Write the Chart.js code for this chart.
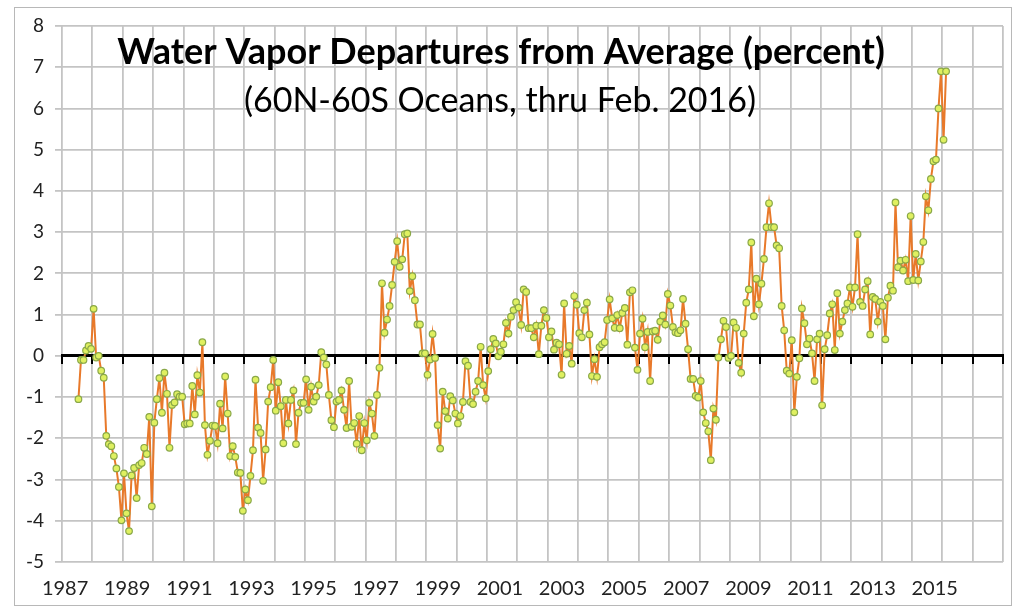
<!DOCTYPE html>
<html><head><meta charset="utf-8">
<script src="https://cdn.jsdelivr.net/npm/chart.js@4"></script>
<style>
html,body{margin:0;padding:0;background:#fff;}
#frame{position:absolute;left:14px;top:7px;width:998px;height:599px;border:1px solid #b8b8b8;box-sizing:border-box;}
#wrap{position:absolute;left:0;top:0;width:1024px;height:614px;}
</style></head><body>
<div id="frame"></div>
<div id="wrap"><canvas id="c" width="1024" height="614"></canvas></div>
<script>
const titleText = 'Water Vapor Departures from Average (percent)';
const subtitleText = '(60N-60S Oceans, thru Feb. 2016)';
const axisMonths = 372;              // month slots on the axis, starting Jan 1987
const firstDataMonth = 6;            // July 1987 (0 = Jan 1987)
const yearTickLabels = ['1987','1989','1991','1993','1995','1997','1999','2001','2003','2005','2007','2009','2011','2013','2015'];
const labelAxisRange = [1986.9, 2017.2];   // year-label axis as laid out in the original
const yMin = -5, yMax = 8;

// monthly departures, Jul 1987 .. Feb 2016
const vapor1987_1990 = [-1.05,-0.1,-0.1,0.13,0.24,0.17,1.14,-0.04,0,-0.36,-0.53,-1.94,-2.14,-2.19,-2.43,-2.73,-3.18,-3.99,-2.85,-3.82,-4.25,-2.9,-2.72,-3.45,-2.65,-2.6,-2.23,-2.38,-1.48,-3.65,-1.62,-1.05,-0.54,-1.38,-0.41,-0.92,-2.23];
const vapor1990_1993 = [-1.19,-1.13,-0.93,-0.99,-0.99,-1.66,-1.64,-1.64,-0.73,-1.42,-0.47,-0.89,0.33,-1.68,-2.4,-2.06,-1.69,-1.7,-2.12,-1.16,-1.76,-0.5,-1.4,-2.43,-2.19,-2.45,-2.83,-2.84,-3.76,-3.24,-3.5,-2.91,-2.29,-0.58,-1.74];
const vapor1993_1996 = [-1.87,-3.03,-2.27,-1.11,-0.76,-0.1,-1.33,-0.64,-1.22,-2.12,-1.07,-1.64,-1.07,-0.84,-2.14,-1.38,-1.14,-1.14,-0.57,-1.31,-0.75,-1.11,-0.99,-0.71,0.09,-0.04,-0.21,-0.95,-1.56,-1.73,-1.11,-1.07,-0.84,-1.31,-1.75,-0.61];
const vapor1996_1999 = [-1.72,-1.63,-2.13,-1.46,-2.29,-1.63,-2.05,-1.14,-1.4,-1.94,-0.95,-0.29,1.76,0.56,0.88,1.21,1.72,2.28,2.78,2.16,2.34,2.95,2.97,1.57,1.93,1.35,0.76,0.76,0.06,0.06,-0.46,-0.09,0.53,-0.05,-1.68,-2.25];
const vapor1999_2002 = [-0.87,-1.34,-1.52,-0.98,-1.08,-1.4,-1.64,-1.46,-1.12,-0.13,-0.24,-1.12,-1.17,-0.87,-0.61,0.22,-0.71,-1.03,-0.37,0.16,0.41,0.3,-0.01,0.1,0.28,0.8,0.54,0.95,1.11,1.3,1.17,0.75,1.61,1.55,0.67];
const vapor2002_2005 = [0.67,0.45,0.73,0.04,0.73,1.11,0.92,0.45,0.59,0.15,0.32,0.28,-0.46,1.27,0.05,0.24,-0.19,1.45,1.24,0.55,0.45,1.11,1.29,0.52,-0.49,-0.08,-0.51,0.21,0.28,0.33,0.87,1.37,0.91,0.68,0.99,0.67];
const vapor2005_2008 = [1.04,1.16,0.27,1.54,1.59,0.2,-0.34,0.54,0.9,0.21,0.58,-0.61,0.59,0.61,0.39,0.83,0.98,0.76,1.5,1.22,0.7,0.57,0.55,0.62,1.38,0.78,0.16,-0.56,-0.56,-0.97,-1.01,-0.61,-1.37,-1.63];
const vapor2008_2011 = [-1.83,-2.53,-1.28,-1.55,-0.04,0.4,0.85,0.7,-0.05,0,0.81,0.68,-0.17,-0.41,0.54,1.29,1.61,2.75,0.96,1.87,1.25,1.75,2.35,3.12,3.7,3.12,3.12,2.68,2.61,1.21,0.62,-0.36,-0.43,0.38,-1.37,-0.51,-0.06];
const vapor2011_2016 = [1.15,0.79,0.28,0.42,0.06,-0.61,0.4,0.54,-1.2,0.16,0.5,1.03,1.25,0.14,1.52,0.54,0.83,1.11,1.27,1.66,1.19,1.66,2.95,1.31,1.21,1.61,1.81,0.52,1.43,1.38,0.83,1.31,1.21,0.4,1.41,1.7,1.58,3.72,2.15,2.31,2.07,2.33,1.81,3.39,1.84,2.47,1.83,2.29,2.76,3.87,3.53,4.29,4.72,4.76,6.0,6.9,5.24,6.9];

const vapor = [].concat(vapor1987_1990, vapor1990_1993, vapor1993_1996, vapor1996_1999,
  vapor1999_2002, vapor2002_2005, vapor2005_2008, vapor2008_2011, vapor2011_2016);
const points = vapor.map((v, i) => ({ x: firstDataMonth + i + 0.5, y: v }));

const FONT = 'Lato';
const gridGray = '#c4c4c4';

const inPlotTitle = {
  id: 'inPlotTitle',
  beforeDatasetsDraw(chart) {
    const { ctx, chartArea } = chart;
    ctx.save();
    ctx.fillStyle = '#000';
    ctx.textAlign = 'center';
    ctx.textBaseline = 'alphabetic';
    ctx.font = 'bold 36px ' + FONT;
    ctx.fillText(titleText, chartArea.left + 439, chartArea.top + 38);
    ctx.font = '34px ' + FONT;
    ctx.fillText(subtitleText, chartArea.left + 438, chartArea.top + 86);
    ctx.restore();
  }
};

new Chart(document.getElementById('c'), {
  type: 'scatter',
  data: {
    datasets: [{
      data: points,
      showLine: true,
      borderColor: '#e8792a',
      borderWidth: 2,
      pointRadius: 3.3,
      pointBorderWidth: 1.2,
      pointBackgroundColor: '#dff060',
      pointBorderColor: '#8aa848',
      tension: 0
    }]
  },
  options: {
    responsive: false,
    animation: false,
    devicePixelRatio: 1,
    layout: { padding: { left: 0, right: 21, top: 26, bottom: 0 } },
    plugins: { legend: { display: false }, tooltip: { enabled: false } },
    scales: {
      x: {
        type: 'linear', min: 0, max: axisMonths, position: 'bottom',
        afterFit(s) { s.height = 0; },
        border: { display: false },
        grid: { color: gridGray, lineWidth: 1.8, drawTicks: false },
        ticks: { stepSize: 12, autoSkip: false, display: false }
      },
      xYears: {
        type: 'linear', min: labelAxisRange[0], max: labelAxisRange[1], position: 'bottom',
        afterFit(s) { s.height = 52; },
        afterBuildTicks(s) { s.ticks = yearTickLabels.map(t => ({ value: Number(t) })); },
        border: { display: false },
        grid: { display: false, drawTicks: false },
        ticks: {
          autoSkip: false, maxRotation: 0, padding: 15,
          color: '#222', font: { family: FONT, size: 20 },
          callback: v => String(v)
        }
      },
      xZero: {
        type: 'linear', min: 0, max: axisMonths, position: { y: 0 },
        border: { display: true, color: '#000', width: 3 },
        grid: { drawOnChartArea: false, color: '#000', lineWidth: 2, tickLength: 7 },
        ticks: { stepSize: 12, display: false }
      },
      y: {
        min: yMin, max: yMax,
        afterFit(s) { s.width = 62; },
        border: { display: false },
        grid: { color: gridGray, lineWidth: 1.8, tickLength: 7 },
        ticks: { stepSize: 1, padding: 11, color: '#222', font: { family: FONT, size: 19 } }
      }
    }
  },
  plugins: [inPlotTitle]
});
</script>
</body></html>
